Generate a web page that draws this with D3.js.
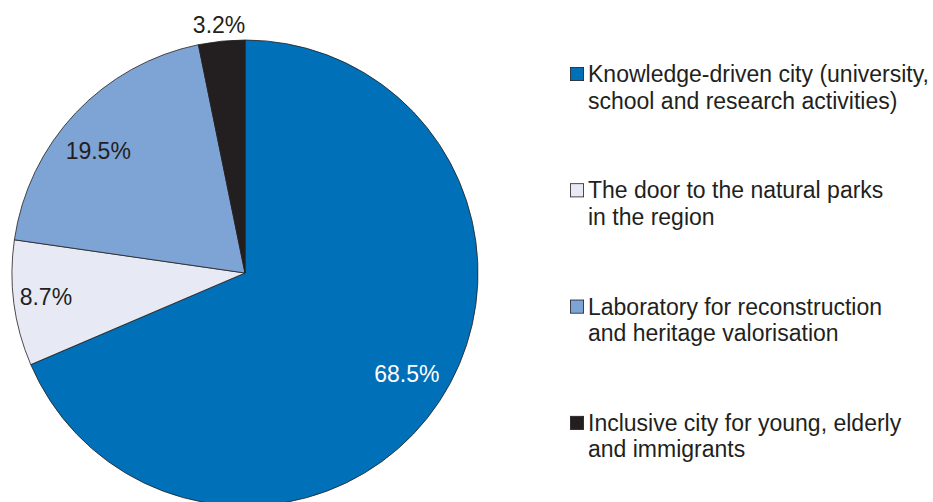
<!DOCTYPE html>
<html>
<head>
<meta charset="utf-8">
<script src="https://cdn.jsdelivr.net/npm/d3@7"></script>
<style>
  html, body { margin: 0; padding: 0; background: #fff; }
  svg { display: block; font-family: "Liberation Sans", Arial, sans-serif; }
</style>
</head>
<body>
<svg id="chart" width="933" height="502"></svg>
<script>
// Share of respondents per city vision
const categories = [
  ["Knowledge-driven city (university,", "school and research activities)"],
  ["The door to the natural parks", "in the region"],
  ["Laboratory for reconstruction", "and heritage valorisation"],
  ["Inclusive city for young, elderly", "and immigrants"]
];
const values = [68.5, 8.7, 19.5, 3.2];
const labels = ["68.5%", "8.7%", "19.5%", "3.2%"];
const colors = ["#0070b8", "#e7eaf5", "#7ea4d6", "#231f20"];

const svg = d3.select("#chart");
const cx = 245, cy = 273, r = 233;

const pie = d3.pie().sort(null).value(d => d)(values);
const arc = d3.arc().innerRadius(0).outerRadius(r);

const g = svg.append("g").attr("transform", `translate(${cx},${cy})`);

g.selectAll("path.slice")
  .data(pie)
  .join("path")
  .attr("class", "slice")
  .attr("d", arc)
  .attr("fill", (d, i) => colors[i])
  .attr("stroke", "#231f20")
  .attr("stroke-width", 0.8);

// label placement: radius as a fraction of the pie radius, plus a small angular nudge (degrees);
// the thin slice gets its label outside the pie
const labelR = [0.818, 0.861, 0.819, 1.07];
const labelShift = [-1.5, 0.5, -3.6, -0.2];
const textColor = ["#ffffff", "#231f20", "#231f20", "#231f20"];
g.selectAll("text.pct")
  .data(pie)
  .join("text")
  .attr("class", "pct")
  .attr("transform", (d, i) => {
    const a = (d.startAngle + d.endAngle) / 2 + labelShift[i] * Math.PI / 180;
    const rr = r * labelR[i];
    return `translate(${rr * Math.sin(a)},${-rr * Math.cos(a)})`;
  })
  .attr("text-anchor", "middle")
  .attr("dy", "0.35em")
  .attr("font-size", 23)
  .attr("fill", (d, i) => textColor[i])
  .text((d, i) => labels[i]);

// legend
const legendX = 570, legendY0 = 74, legendStep = 116.3, box = 14;
const lg = svg.append("g");
categories.forEach((lines, i) => {
  const y = legendY0 + i * legendStep;
  lg.append("rect")
    .attr("x", legendX + 0.4)
    .attr("y", y - box / 2 + 0.4)
    .attr("width", box - 0.8)
    .attr("height", box - 0.8)
    .attr("fill", colors[i])
    .attr("stroke", "#231f20")
    .attr("stroke-width", 0.8);
  const t = lg.append("text")
    .attr("x", legendX + 18)
    .attr("y", y + 8)
    .attr("font-size", 23)
    .attr("fill", "#231f20");
  lines.forEach((line, j) => {
    t.append("tspan")
      .attr("x", legendX + 18)
      .attr("dy", j === 0 ? 0 : 26.5)
      .text(line);
  });
});
</script>
</body>
</html>
